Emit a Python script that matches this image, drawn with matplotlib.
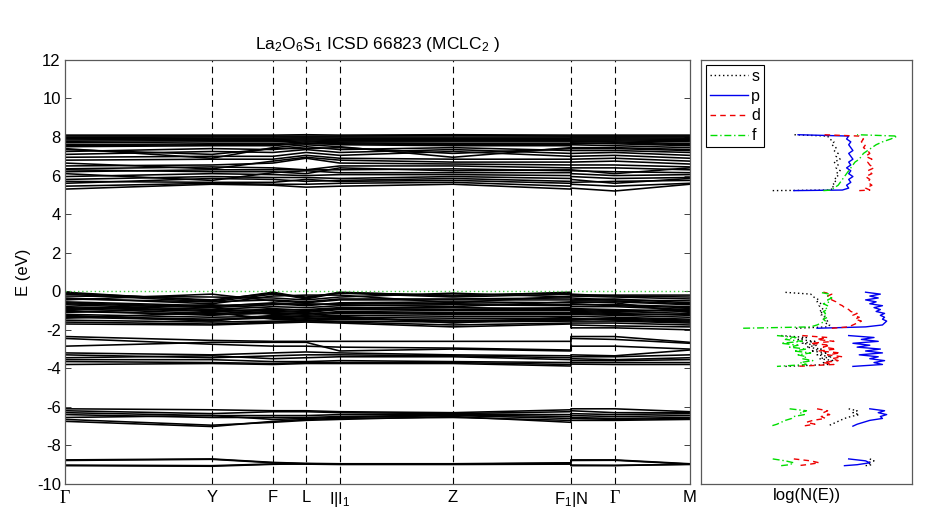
import numpy as np
import matplotlib
matplotlib.use("Agg")
import matplotlib.pyplot as plt

plt.rcParams['font.family'] = ['Liberation Sans', 'DejaVu Sans']
plt.rcParams['mathtext.fontset'] = 'custom'
plt.rcParams['mathtext.rm'] = 'Liberation Sans'
plt.rcParams['mathtext.it'] = 'Liberation Sans'
plt.rcParams['axes.unicode_minus'] = False

# ---------------- data ----------------
title = "La$_2$O$_6$S$_1$ ICSD 66823 (MCLC$_2$ )"
kpoint_labels = ["Γ", "Y", "F", "L", "I|I$_1$", "Z", "F$_1$|N", "Γ", "M"]
# path length at each node: Γ, Y, F, L, I, Z, F1, N, Γ, M
kdist = [0.0, 0.235, 0.333, 0.386, 0.440, 0.621, 0.810, 0.810, 0.880, 1.0]
tick_pos = [0.0, 0.235, 0.333, 0.386, 0.440, 0.621, 0.810, 0.880, 1.0]

# band energies (eV) at the nodes above
bands_core = [
    [-8.75, -8.70, -8.88, -8.93, -8.95, -8.95, -8.90, -8.75, -8.75, -8.95],
    [-8.78, -8.72, -8.90, -8.95, -8.96, -8.97, -8.92, -8.78, -8.77, -8.97],
    [-9.05, -9.08, -8.98, -8.95, -8.97, -8.97, -8.95, -9.05, -9.05, -8.97],
    [-9.02, -9.05, -8.96, -8.97, -8.99, -8.99, -8.97, -9.02, -9.03, -8.99],
]
bands_o2s = [
    [-6.10, -6.15, -6.20, -6.20, -6.25, -6.30, -6.15, -6.10, -6.10, -6.25],
    [-6.20, -6.35, -6.25, -6.25, -6.30, -6.35, -6.25, -6.20, -6.30, -6.30],
    [-6.30, -6.45, -6.45, -6.45, -6.40, -6.38, -6.40, -6.35, -6.40, -6.35],
    [-6.40, -6.55, -6.55, -6.55, -6.50, -6.42, -6.50, -6.45, -6.50, -6.45],
    [-6.55, -6.45, -6.65, -6.60, -6.55, -6.45, -6.60, -6.55, -6.60, -6.55],
    [-6.65, -6.95, -6.80, -6.70, -6.65, -6.50, -6.80, -6.60, -6.65, -6.60],
    [-6.75, -7.02, -6.75, -6.65, -6.60, -6.55, -6.70, -6.70, -6.70, -6.65],
]
bands_mid = [
    [-2.35, -2.55, -2.60, -2.60, -2.60, -2.60, -2.60, -2.35, -2.35, -2.65],
    [-2.45, -2.75, -2.85, -2.85, -2.90, -2.95, -3.05, -2.45, -2.50, -2.70],
    [-2.85, -2.65, -2.65, -2.65, -3.10, -3.00, -3.10, -2.85, -2.85, -3.00],
    [-3.20, -3.30, -3.20, -3.15, -3.20, -3.30, -3.35, -3.30, -3.35, -3.05],
    [-3.30, -3.45, -3.35, -3.30, -3.30, -3.35, -3.45, -3.40, -3.40, -3.30],
    [-3.45, -3.35, -3.50, -3.45, -3.40, -3.40, -3.55, -3.50, -3.55, -3.45],
    [-3.55, -3.55, -3.65, -3.65, -3.60, -3.65, -3.70, -3.60, -3.60, -3.55],
    [-3.65, -3.70, -3.75, -3.70, -3.70, -3.70, -3.80, -3.70, -3.70, -3.70],
    [-3.80, -3.75, -3.80, -3.75, -3.75, -3.75, -3.88, -3.78, -3.80, -3.80],
]
bands_vb = [
    [-0.05, -0.50, -0.05, -0.35, -0.05, -0.25, -0.05, -0.20, -0.20, -0.20],
    [-0.10, -0.45, -0.10, -0.40, -0.08, -0.20, -0.10, -0.15, -0.25, -0.30],
    [-0.15, -0.55, -0.15, -0.30, -0.10, -0.30, -0.15, -0.25, -0.30, -0.40],
    [-0.25, -0.30, -0.35, -0.45, -0.30, -0.10, -0.30, -0.45, -0.40, -0.60],
    [-0.35, -0.65, -0.25, -0.20, -0.20, -0.60, -0.25, -0.35, -0.45, -0.50],
    [-0.40, -0.55, -0.45, -0.55, -0.40, -0.40, -0.35, -0.50, -0.50, -0.65],
    [-0.45, -0.15, -0.50, -0.60, -0.45, -0.45, -0.45, -0.60, -0.55, -0.70],
    [-0.55, -0.75, -0.65, -0.75, -0.60, -0.55, -0.60, -0.70, -0.70, -0.80],
    [-0.60, -0.80, -0.60, -0.70, -0.65, -0.65, -0.70, -0.65, -0.75, -0.85],
    [-0.65, -0.85, -0.70, -0.65, -0.70, -0.80, -0.55, -0.55, -0.60, -1.10],
    [-0.70, -0.95, -0.80, -0.85, -0.75, -0.70, -0.75, -0.80, -0.80, -0.95],
    [-0.80, -1.00, -0.95, -0.95, -0.85, -0.85, -0.90, -0.90, -0.95, -1.05],
    [-0.85, -1.05, -1.00, -1.05, -0.90, -0.95, -0.95, -0.95, -1.00, -1.00],
    [-0.90, -1.15, -1.05, -1.10, -0.95, -1.00, -1.00, -1.00, -1.05, -1.15],
    [-0.95, -0.70, -0.90, -1.00, -0.90, -0.95, -0.85, -1.05, -1.10, -0.90],
    [-1.00, -1.25, -1.10, -1.20, -1.05, -1.10, -1.10, -1.10, -1.15, -1.25],
    [-1.05, -1.20, -1.15, -1.15, -1.10, -1.15, -1.15, -1.15, -1.20, -1.20],
    [-1.10, -0.85, -1.20, -1.25, -1.15, -1.20, -1.20, -1.20, -1.25, -1.35],
    [-1.20, -1.35, -1.30, -1.30, -1.25, -1.30, -1.30, -1.30, -1.35, -1.45],
    [-1.25, -1.55, -1.25, -1.35, -1.30, -1.65, -1.35, -1.40, -1.50, -1.60],
    [-1.30, -1.45, -1.40, -1.45, -1.35, -1.40, -1.40, -1.45, -1.45, -1.55],
    [-1.35, -1.50, -1.35, -1.40, -1.40, -1.55, -1.45, -1.50, -1.40, -1.50],
    [-1.40, -1.10, -1.45, -1.50, -1.45, -1.50, -1.50, -1.55, -1.55, -1.65],
    [-1.50, -1.60, -1.55, -1.55, -1.55, -1.60, -1.55, -1.65, -1.65, -1.75],
    [-1.60, -1.70, -1.60, -1.50, -1.60, -1.75, -1.65, -1.75, -1.80, -1.85],
    [-1.70, -1.75, -1.65, -1.60, -1.65, -1.85, -1.70, -1.90, -1.90, -2.00],
]
bands_cb = [
    [5.30, 5.55, 5.50, 5.40, 5.45, 5.55, 5.30, 5.35, 5.20, 5.55],
    [5.45, 5.60, 5.55, 5.55, 5.60, 5.65, 5.45, 5.55, 5.45, 5.60],
    [5.60, 5.85, 5.80, 5.70, 5.75, 5.85, 5.70, 5.65, 5.70, 5.75],
    [5.70, 5.65, 5.65, 5.80, 5.70, 5.75, 5.60, 5.80, 5.60, 5.85],
    [5.80, 5.95, 5.90, 5.90, 5.85, 5.95, 5.85, 5.95, 5.85, 5.90],
    [5.95, 6.10, 6.05, 6.00, 6.05, 6.05, 6.00, 6.10, 6.00, 6.05],
    [6.10, 5.75, 6.15, 6.25, 6.15, 6.15, 6.15, 6.25, 6.20, 6.15],
    [6.20, 6.30, 6.30, 6.30, 6.30, 6.35, 6.25, 6.40, 6.40, 6.30],
    [6.30, 6.20, 6.20, 6.10, 6.40, 6.25, 6.30, 6.30, 6.10, 6.40],
    [6.35, 6.45, 6.40, 6.30, 6.50, 6.50, 6.40, 6.55, 6.55, 6.45],
    [6.50, 6.55, 6.65, 6.90, 6.65, 6.60, 6.55, 6.70, 6.75, 6.60],
    [6.65, 6.35, 6.75, 6.95, 6.80, 6.70, 6.70, 6.85, 6.90, 6.75],
    [6.80, 6.85, 6.85, 7.05, 6.90, 6.85, 6.85, 7.00, 7.05, 6.90],
    [6.95, 7.00, 7.00, 7.20, 7.05, 7.25, 7.00, 7.15, 7.20, 7.05],
    [7.10, 7.25, 7.20, 7.35, 7.20, 7.35, 7.15, 7.30, 7.30, 7.20],
    [7.25, 7.40, 7.35, 7.50, 7.35, 7.45, 7.30, 7.45, 7.45, 7.35],
    [7.35, 7.10, 7.40, 7.40, 7.45, 7.15, 7.40, 7.40, 7.40, 7.30],
    [7.40, 6.90, 7.45, 7.60, 7.50, 6.95, 7.45, 7.60, 7.55, 7.45],
    [7.50, 7.55, 7.55, 7.70, 7.60, 7.55, 7.55, 7.70, 7.65, 7.55],
    [7.55, 7.60, 7.60, 7.65, 7.65, 7.60, 7.60, 7.65, 7.70, 7.60],
    [7.60, 7.65, 7.65, 7.75, 7.70, 7.65, 7.65, 7.75, 7.75, 7.65],
    [7.70, 7.75, 7.75, 7.80, 7.75, 7.75, 7.75, 7.80, 7.80, 7.75],
    [7.78, 7.82, 7.82, 7.85, 7.82, 7.82, 7.82, 7.85, 7.85, 7.82],
    [7.85, 7.88, 7.88, 7.90, 7.88, 7.88, 7.88, 7.90, 7.90, 7.88],
    [7.92, 7.94, 7.94, 7.95, 7.94, 7.94, 7.94, 7.95, 7.95, 7.94],
    [7.98, 8.00, 8.00, 8.00, 8.00, 8.00, 8.00, 8.00, 8.00, 8.00],
    [8.05, 8.05, 8.05, 8.05, 8.05, 8.08, 8.05, 8.05, 8.05, 8.05],
    [8.10, 8.10, 8.10, 8.12, 8.10, 8.12, 8.10, 8.10, 8.10, 8.10],
]
fermi_energy = 0.0

# projected DOS, log(N(E)) in arbitrary units, per energy window
dos_E1 = [5.22, 5.25, 5.35, 5.5, 5.65, 5.8, 5.95, 6.1, 6.25, 6.4, 6.55, 6.7,
          6.85, 7.0, 7.15, 7.3, 7.45, 7.6, 7.75, 7.9, 8.05, 8.12]
dos_s1 = [34, 61, 63, 62, 64, 63, 65, 64, 66, 64, 65, 63, 66, 64, 65, 63, 64, 62, 63, 61, 60, 44]
dos_p1 = [44, 67, 70, 69, 71, 70, 72, 70, 71, 69, 71, 70, 72, 71, 70, 72, 71, 70, 71, 69, 70, 46]
dos_d1 = [75, 80, 78, 81, 79, 80, 78, 81, 79, 82, 80, 79, 81, 78, 80, 79, 77, 78, 76, 77, 75, 58]
dos_f1 = [58, 62, 63, 65, 66, 67, 68, 69, 70, 71, 72, 73, 75, 76, 77, 79, 81, 83, 86, 90, 93, 74]

dos_E2 = [-1.92, -1.85, -1.75, -1.65, -1.55, -1.45, -1.35, -1.25, -1.15, -1.05,
          -0.95, -0.85, -0.75, -0.65, -0.55, -0.45, -0.35, -0.25, -0.15, -0.05]
dos_s2 = [45, 60, 61, 59, 60, 58, 59, 57, 58, 56, 58, 57, 56, 57, 55, 56, 54, 53, 52, 39]
dos_p2 = [55, 78, 86, 87, 88, 86, 87, 85, 87, 83, 85, 82, 86, 80, 83, 78, 84, 80, 85, 78]
dos_d2 = [62, 70, 72, 74, 76, 73, 75, 72, 74, 71, 70, 68, 67, 65, 64, 62, 61, 60, 62, 58]
dos_f2 = [20, 52, 55, 57, 59, 58, 60, 58, 59, 58, 60, 59, 60, 58, 61, 60, 62, 60, 61, 56]

dos_E3 = [-2.3, -2.4, -2.5, -2.6, -2.7, -2.8, -2.9, -3.0, -3.1, -3.2, -3.3,
          -3.4, -3.5, -3.6, -3.7, -3.8, -3.9]
dos_s3 = [38, 50, 46, 54, 48, 55, 50, 57, 52, 60, 55, 62, 56, 63, 58, 60, 40]
dos_p3 = [70, 82, 76, 84, 72, 80, 74, 85, 78, 86, 75, 84, 80, 87, 82, 86, 72]
dos_d3 = [48, 60, 55, 63, 52, 61, 58, 64, 56, 66, 60, 67, 62, 65, 58, 63, 45]
dos_f3 = [36, 45, 40, 48, 38, 46, 42, 50, 44, 52, 46, 50, 48, 53, 47, 50, 36]

dos_E4 = [-6.1, -6.2, -6.3, -6.4, -6.5, -6.6, -6.7, -6.8, -6.9, -7.0]
dos_s4 = [70, 74, 72, 75, 71, 68, 66, 64, 62, 60]
dos_p4 = [80, 87, 84, 88, 85, 86, 80, 77, 74, 72]
dos_d4 = [55, 60, 58, 61, 57, 59, 53, 50, 54, 48]
dos_f4 = [42, 50, 47, 49, 44, 43, 40, 38, 36, 33]

dos_E5 = [-8.7, -8.8, -8.9, -9.0, -9.05]
dos_s5 = [80, 82, 79, 81, 78]
dos_p5 = [70, 78, 80, 74, 68]
dos_d5 = [44, 52, 56, 50, 46]
dos_f5 = [34, 40, 44, 42, 38]

# ---------------- figure ----------------
fig = plt.figure(figsize=(9.35, 5.14), dpi=100)
ax = fig.add_axes([0.0695, 0.0584, 0.668, 0.825])
axd = fig.add_axes([0.7497, 0.0584, 0.2257, 0.825])

for group in (bands_core, bands_o2s, bands_mid, bands_vb, bands_cb):
    for b in group:
        ax.plot(kdist, b, color='black', lw=1.15, solid_joinstyle='round')

for x in tick_pos[1:-1]:
    ax.axvline(x, color='black', lw=0.8, ls=(0, (6, 4)))
ax.plot([kdist[0], kdist[-1]], [fermi_energy, fermi_energy], color='#44cc44',
        lw=1.0, ls=(0, (1, 2)))

ax.set_xlim(kdist[0], kdist[-1])
ax.set_ylim(-10, 12)
ax.set_yticks(range(-10, 13, 2))
ax.set_xticks(tick_pos)
ax.set_xticklabels(kpoint_labels)
ax.tick_params(direction='in', length=4, width=0.7, labelsize=12, top=True,
               right=True, colors='0.25', labelcolor='black', pad=3)
ax.tick_params(axis='x', length=0, pad=4)
for lab in ax.get_xticklabels():
    if lab.get_text() == "Γ":
        lab.set_fontfamily(['Liberation Serif', 'DejaVu Serif'])
        lab.set_fontsize(13)
for sp in ax.spines.values():
    sp.set_color('0.35')
    sp.set_linewidth(0.9)
ax.set_ylabel("E (eV)", fontsize=12, labelpad=4)
ax.set_title(title, fontsize=12.5, pad=8)

# DOS panel
styles = [('s', 'black', (0, (1, 2)), [dos_s1, dos_s2, dos_s3, dos_s4, dos_s5]),
          ('p', '#0000ee', '-', [dos_p1, dos_p2, dos_p3, dos_p4, dos_p5]),
          ('d', '#ee0000', (0, (4, 3)), [dos_d1, dos_d2, dos_d3, dos_d4, dos_d5]),
          ('f', '#00dd00', (0, (5, 2, 1, 2)), [dos_f1, dos_f2, dos_f3, dos_f4, dos_f5])]
energies = [dos_E1, dos_E2, dos_E3, dos_E4, dos_E5]
for name, col, ls, vals in styles:
    xs, ys = [], []
    for e, v in zip(energies, vals):
        xs += list(v) + [np.nan]
        ys += list(e) + [np.nan]
    axd.plot(xs, ys, color=col, ls=ls, lw=1.0, label=name)
axd.set_xlim(0, 100)
axd.set_ylim(-10, 12)
axd.set_xticks([])
axd.set_yticks([])
for sp in axd.spines.values():
    sp.set_color('0.35')
    sp.set_linewidth(0.9)
axd.set_xlabel("log(N(E))", fontsize=12, labelpad=3)
leg = axd.legend(loc='upper left', fontsize=11.5, handlelength=2.4, handletextpad=0.2,
                 labelspacing=0.3, borderaxespad=0.3, borderpad=0.25,
                 fancybox=False, framealpha=1)
leg.get_frame().set_edgecolor('black')
leg.get_frame().set_linewidth(0.8)

fig.savefig("out.png", dpi=100)
